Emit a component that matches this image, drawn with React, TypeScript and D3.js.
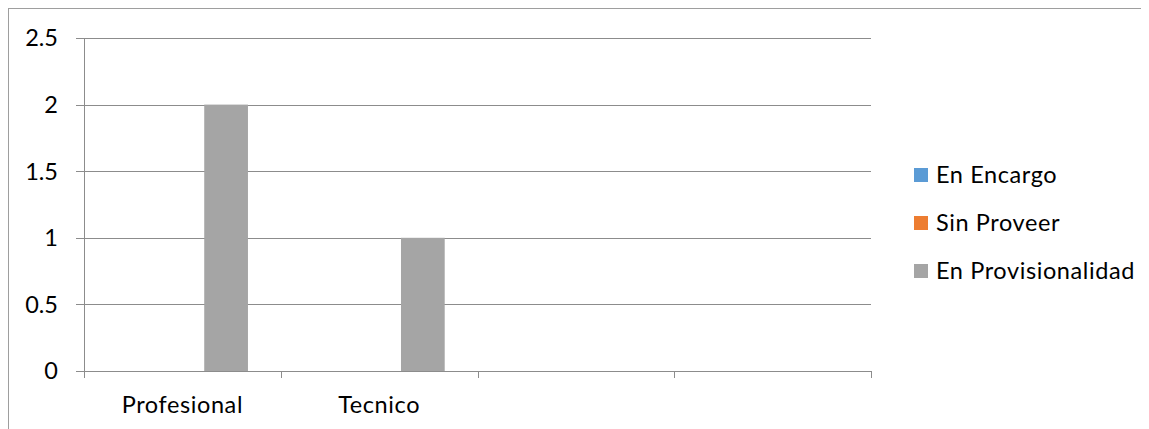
import React from "react";
import * as d3 from "d3";

const categories = ["Profesional", "Tecnico", "", " "];
const seriesNames = ["En Encargo", "Sin Proveer", "En Provisionalidad"];
const enEncargo = [0, 0, 0, 0];
const sinProveer = [0, 0, 0, 0];
const enProvisionalidad = [2, 1, 0, 0];
const yTicks = [0, 0.5, 1, 1.5, 2, 2.5];
const colors = ["#5B9BD5", "#ED7D31", "#A5A5A5"];

const W = 1141;
const H = 421;
const FONT = "Lato, 'Open Sans', sans-serif";

export default function App() {
  const series = [enEncargo, sinProveer, enProvisionalidad];
  const x = d3.scaleBand<string>().domain(categories).range([76, 863]).paddingInner(0).paddingOuter(0);
  const bw = x.bandwidth();
  const barW = bw / (series.length + 1.5);
  const inner = d3.scaleBand<number>().domain(d3.range(series.length)).range([bw / 2 - (barW * series.length) / 2, bw / 2 + (barW * series.length) / 2]);
  const y = d3.scaleLinear().domain([0, 2.5]).range([363, 30]);
  const grid = "#8C8C8C";
  const ticksX = [...categories.map((c) => x(c) as number), 863];
  return (
    <svg width={W} height={H} style={{ display: "block" }}>
      <rect x={0.5} y={0.5} width={1300} height={600} fill="white" stroke="#9E9E9E" strokeWidth={1} />
      {yTicks.map((t) => (
        <g key={t}>
          <line x1={68} x2={863} y1={Math.round(y(t)) + 0.5} y2={Math.round(y(t)) + 0.5} stroke={grid} strokeWidth={1} />
          <text x={50} y={y(t)} dy="0.36em" textAnchor="end" fontFamily={FONT} fontSize={23.5} fill="#000">
            {String(t)}
          </text>
        </g>
      ))}
      <line x1={76.5} x2={76.5} y1={y(2.5)} y2={y(0)} stroke={grid} strokeWidth={1} />
      {ticksX.map((tx, i) => (
        <line key={i} x1={Math.round(tx) + 0.5} x2={Math.round(tx) + 0.5} y1={y(0)} y2={y(0) + 7} stroke={grid} strokeWidth={1} />
      ))}
      {series.map((vals, si) =>
        vals.map((v, ci) =>
          v > 0 ? (
            <rect
              key={`${si}-${ci}`}
              x={(x(categories[ci]) as number) + (inner(si) as number)}
              y={y(v)}
              width={barW}
              height={y(0) - y(v)}
              fill={colors[si]}
            />
          ) : null
        )
      )}
      {categories.map((c) => (
        <text key={c} x={(x(c) as number) + bw / 2} y={405} textAnchor="middle" fontFamily={FONT} fontSize={23.5} letterSpacing={0.6} fill="#000">
          {c.trim()}
        </text>
      ))}
      {seriesNames.map((n, i) => (
        <g key={n} transform={`translate(906, ${167 + i * 48})`}>
          <rect x={0} y={-7} width={14} height={14} fill={colors[i]} />
          <text x={22} y={0} dy="0.36em" fontFamily={FONT} fontSize={23.5} letterSpacing={0.6} fill="#000">
            {n}
          </text>
        </g>
      ))}
    </svg>
  );
}
